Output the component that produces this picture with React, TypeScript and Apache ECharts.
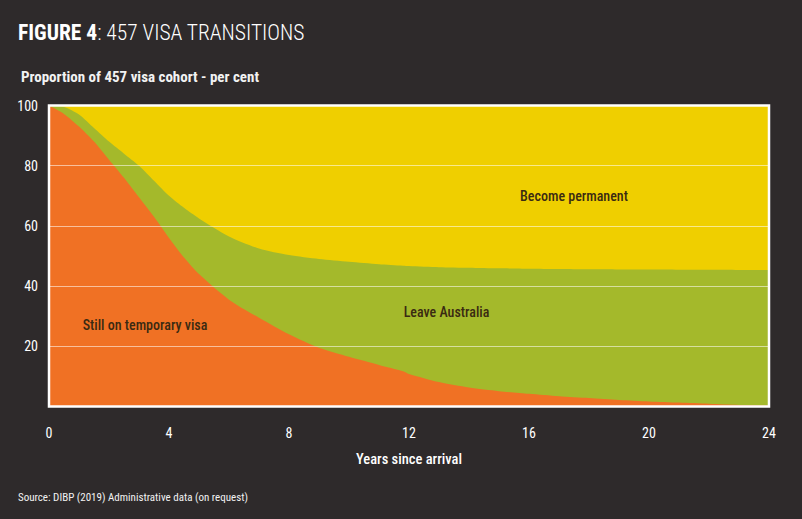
import React, { useEffect, useRef } from "react";
import * as echarts from "echarts";

// ---- Data ----
const years = [0, 0.5, 1, 1.5, 2, 2.5, 3, 3.5, 4, 4.5, 5, 6, 7, 8, 9, 10, 11, 11.8, 12, 13, 14, 15, 16, 17, 18, 19, 20, 21, 22, 23, 24];
const stillOnTemporaryVisa = [100, 97.2, 93, 88, 82, 76, 69.5, 63, 56, 49.5, 44, 35.5, 29.5, 24, 19.5, 16.5, 13.8, 11.7, 10.8, 8.1, 6.3, 5.1, 4.2, 3.4, 2.8, 2.2, 1.7, 1.3, 0.9, 0.5, 0.3];
const leaveAustralia = [0, 2.3, 4, 4.5, 6, 8, 10.5, 12, 14, 16.5, 18.5, 21, 23, 26.3, 29.5, 31.6, 33.5, 35.1, 35.9, 38.2, 39.8, 40.8, 41.6, 42.3, 42.8, 43.35, 43.8, 44.15, 44.5, 44.85, 45];
const becomePermanent = [0, 0.5, 3, 7.5, 12, 16, 20, 25, 30, 34, 37.5, 43.5, 47.5, 49.7, 51, 51.9, 52.7, 53.2, 53.3, 53.7, 53.9, 54.1, 54.2, 54.3, 54.4, 54.45, 54.5, 54.55, 54.6, 54.65, 54.7];

const seriesNames = ["Still on temporary visa", "Leave Australia", "Become permanent"];
const seriesValues = [stillOnTemporaryVisa, leaveAustralia, becomePermanent];
const areaLabels = [
  { text: "Still on temporary visa", x: 3.2, y: 27 },
  { text: "Leave Australia", x: 13.25, y: 31.4 },
  { text: "Become permanent", x: 17.5, y: 70 },
];

const titleBold = "FIGURE 4";
const titleRest = ": 457 VISA TRANSITIONS";
const subtitle = "Proportion of 457 visa cohort - per cent";
const xAxisTitle = "Years since arrival";
const sourceText = "Source: DIBP (2019) Administrative data (on request)";

const FONT = "'Roboto Condensed', 'Liberation Sans Narrow', 'DejaVu Sans Condensed', 'Arial Narrow', Roboto, sans-serif";
const BG = "#2e2a2b";
const COLORS = ["#f07124", "#a4b92b", "#efcf00"];

export default function App() {
  const ref = useRef<HTMLDivElement>(null);
  useEffect(() => {
    document.body.style.margin = "0";
    document.body.style.background = BG;
    const chart = echarts.init(ref.current!, undefined, { renderer: "svg" });

    // cumulative upper boundary of each band (bottom band first)
    const cumulative = seriesValues.map((_, i) =>
      years.map((_, k) => {
        let s = 0;
        for (let j = 0; j <= i; j++) s += seriesValues[j][k];
        return +s.toFixed(3);
      })
    );

    // draw top band first so lower bands are painted over it
    const order = [2, 1, 0];
    const option: any = {
      animation: false,
      backgroundColor: BG,
      grid: { left: 49, right: 33, top: 105.5, bottom: 112.5, show: true, borderColor: "#ffffff", borderWidth: 2.5, backgroundColor: "transparent", z: 10 },
      xAxis: {
        type: "value",
        min: 0,
        max: 24,
        interval: 4,
        axisLine: { show: false },
        axisTick: { show: false },
        splitLine: { show: false },
        axisLabel: { color: "#ffffff", fontSize: 14, fontFamily: FONT, margin: 19 },
      },
      yAxis: {
        type: "value",
        min: 0,
        max: 100,
        interval: 20,
        z: 5,
        axisLine: { show: false },
        axisTick: { show: false },
        splitLine: { show: true, lineStyle: { color: "rgba(255,255,255,0.55)", width: 1 } },
        axisLabel: { color: "#ffffff", fontSize: 14, fontFamily: FONT, margin: 11, showMinLabel: false },
      },
      series: order.map((i, n) => ({
        name: seriesNames[i],
        type: "line",
        z: 2 + n * 0.1,
        smooth: 0.25,
        symbol: "none",
        lineStyle: { width: 0 },
        areaStyle: { color: COLORS[i], opacity: 1, origin: "start" },
        itemStyle: { color: COLORS[i] },
        data: years.map((y, k) => [y, cumulative[i][k]]),
      })),
    };
    chart.setOption(option);
    const labelGraphics = areaLabels.map((l) => {
      const p = chart.convertToPixel({ gridIndex: 0 }, [l.x, l.y]) as number[];
      return {
        type: "text",
        x: p[0],
        y: p[1],
        z: 20,
        style: { text: l.text, fill: "#3a2a12", font: `500 14px ${FONT}`, align: "center", verticalAlign: "middle" },
      };
    });
    chart.setOption({
      graphic: [
        {
          type: "text",
          left: 18,
          top: 21,
          style: {
            text: `{b|${titleBold}}{l|${titleRest}}`,
            rich: {
              b: { fill: "#ffffff", fontSize: 21.5, fontWeight: "bold", fontFamily: FONT },
              l: { fill: "#ffffff", fontSize: 21.5, fontWeight: 300, fontFamily: FONT },
            },
          },
        },
        {
          type: "text",
          left: 21,
          top: 69,
          style: { text: subtitle, fill: "#f2f2f2", font: `bold 15px ${FONT}` },
        },
        {
          type: "text",
          x: 409,
          y: 459,
          style: { text: xAxisTitle, fill: "#ffffff", font: `500 14.5px ${FONT}`, align: "center", verticalAlign: "middle" },
        },
        {
          type: "text",
          left: 18,
          top: 492,
          style: { text: sourceText, fill: "#f2f2f2", font: `11px ${FONT}` },
        },
        ...labelGraphics,
      ],
    });
    return () => chart.dispose();
  }, []);
  return <div ref={ref} style={{ width: 802, height: 519 }} />;
}
